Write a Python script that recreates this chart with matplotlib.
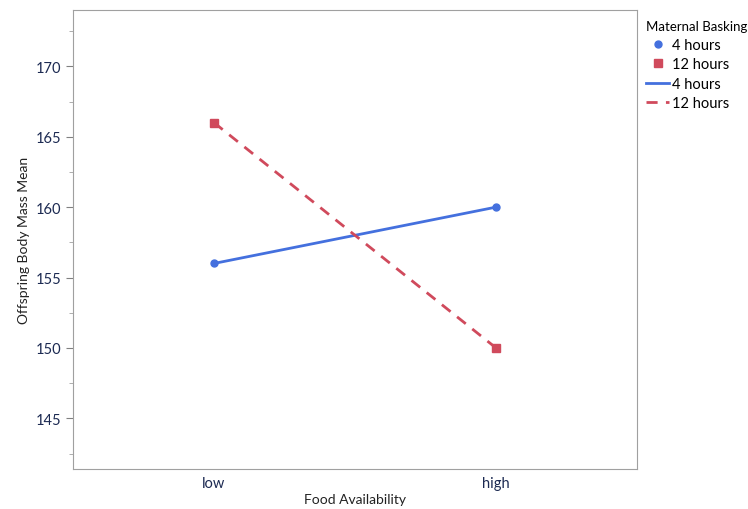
import matplotlib.pyplot as plt
from matplotlib.lines import Line2D

# data
food = ['low', 'high']
groups = ['4 hours', '12 hours']
mass_4h = [156, 160]
mass_12h = [166, 150]

colors = {'4 hours': '#4470DE', '12 hours': '#D04A5C'}
markers = {'4 hours': 'o', '12 hours': 's'}
styles = {'4 hours': '-', '12 hours': (0, (4, 3))}
values = {'4 hours': mass_4h, '12 hours': mass_12h}

plt.rcParams['font.family'] = ['Lato', 'DejaVu Sans']

fig = plt.figure(figsize=(7.48, 5.10), dpi=100)
ax = fig.add_axes([0.0976, 0.0784, 0.754, 0.9])

x = list(range(len(food)))
for g in groups:
    ax.plot(x, values[g], color=colors[g], linestyle=styles[g], linewidth=2,
            marker=markers[g], markersize=5 if g == '4 hours' else 6)

ax.set_xlim(-0.5, 1.5)
ax.set_ylim(141.4, 174)
ax.set_xticks(x)
ax.set_xticklabels(food)
ax.set_yticks([145, 150, 155, 160, 165, 170])
ax.set_yticks([142.5, 147.5, 152.5, 157.5, 162.5, 167.5, 172.5], minor=True)

for s in ax.spines.values():
    s.set_color('#a0a0a0')
ax.tick_params(axis='y', which='major', length=5, color='#808080',
               labelcolor='#1c2a52', labelsize=10.5)
ax.tick_params(axis='y', which='minor', length=3, color='#a0a0a0')
ax.tick_params(axis='x', length=0, labelcolor='#1c2a52', labelsize=10.5, pad=5)

ax.set_xlabel('Food Availability', fontsize=10, color='#222222', labelpad=2)
ax.set_ylabel('Offspring Body Mass Mean', fontsize=10, color='#222222', labelpad=4)

handles = [
    Line2D([], [], color=colors['4 hours'], marker='o', linestyle='none', markersize=5),
    Line2D([], [], color=colors['12 hours'], marker='s', linestyle='none', markersize=6),
    Line2D([], [], color=colors['4 hours'], linestyle='-', linewidth=2),
    Line2D([], [], color=colors['12 hours'], linestyle=(0, (4, 3)), linewidth=2),
]
leg = fig.legend(handles, ['4 hours', '12 hours', '4 hours', '12 hours'],
                 title='Maternal Basking', loc='upper left',
                 bbox_to_anchor=(0.856, 0.97), frameon=False, fontsize=10.5,
                 title_fontsize=9.5, handlelength=1.6, handletextpad=0.2,
                 labelspacing=0.38, borderaxespad=0, alignment='left')

fig.savefig('out.png', dpi=100)
